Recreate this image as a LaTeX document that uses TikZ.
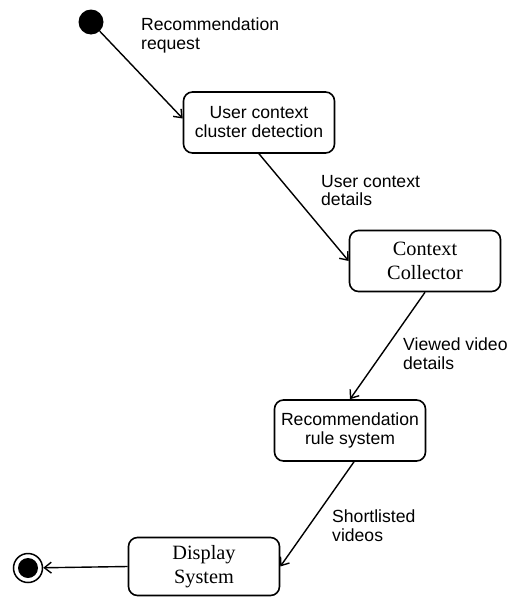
\documentclass[tikz,border=0pt]{standalone}
\usepackage{fontspec}
\setmainfont{Liberation Serif}
\setsansfont{Liberation Sans}
\usetikzlibrary{arrows.meta}
\begin{document}
\begin{tikzpicture}[x=1pt,y=-1pt,
 box/.style={draw, line width=1.6pt, rounded corners=9pt, minimum width=151pt, minimum height=61pt, align=center, inner sep=0pt},
 sansbox/.style={box, font=\sffamily\fontsize{17.6}{19}\selectfont},
 serifbox/.style={box, font=\fontsize{20.3}{24}\selectfont},
 lbl/.style={anchor=north west, align=left, inner sep=0pt, font=\sffamily\fontsize{17.6}{18.5}\selectfont},
 flow/.style={line width=1.4pt, -{Straight Barb[length=7pt,width=11pt,line width=1.4pt]}}
]
\useasboundingbox (0,0) rectangle (511,597);
\node[circle, fill, minimum size=25pt, inner sep=0pt] (start) at (91,22) {};
\node[sansbox] (b1) at (259,122.5) {User context\\cluster detection};
\node[serifbox] (b2) at (425,261) {Context\\Collector};
\node[sansbox] (b3) at (350,430.5) {Recommendation\\rule system};
\node[serifbox, minimum height=58pt] (b4) at (204,566.5) {Display\\System};
\node[circle, draw, line width=1.5pt, minimum size=29pt, inner sep=0pt] (end) at (28,568) {};
\node[circle, fill, minimum size=20pt, inner sep=0pt] (endin) at (end.center) {};

\node[lbl] (l1) at (141,18) {Recommendation\\request};
\node[lbl] (l2) at (321,175) {User context\\details};
\node[lbl] (l3) at (403,338) {Viewed video\\details};
\node[lbl] (l4) at (332,510) {Shortlisted\\videos};

\draw[flow] (start) -- ([yshift=4pt]b1.west);
\draw[flow] (b1.south) -- (b2.west);
\draw[flow] (b2.south) -- (b3.north);
\draw[flow] ([xshift=4pt]b3.south) -- (b4.east);
\draw[flow] (b4.west) -- (end);
\end{tikzpicture}
\end{document}
